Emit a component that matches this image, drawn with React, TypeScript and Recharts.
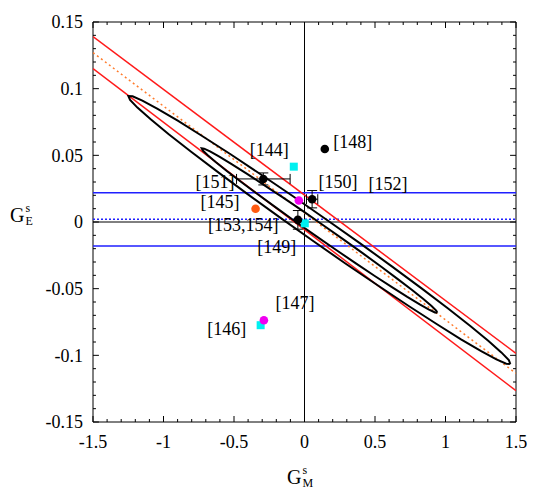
import {
  ComposedChart, XAxis, YAxis, Line, Scatter, ErrorBar, ReferenceLine, ReferenceArea,
} from "recharts";

const FONT = "'Liberation Serif', 'Times New Roman', serif";

const xTicks = [-1.5, -1, -0.5, 0, 0.5, 1, 1.5];
const yTicks = [-0.15, -0.1, -0.05, 0, 0.05, 0.1, 0.15];
const xMinor = Array.from({ length: 31 }, (_, i) => +(-1.5 + i * 0.1).toFixed(2));
const yMinor = Array.from({ length: 31 }, (_, i) => +(-0.15 + i * 0.01).toFixed(3));

// horizontal bands (G_E^s constraints)
const blueSolid = [0.022, -0.018];
const blueDotted = 0.002;

// diagonal bands, read at the left and right edges
const redUpper = [{ x: -1.5, y: 0.139 }, { x: 1.5, y: -0.0985 }];
const redLower = [{ x: -1.5, y: 0.115 }, { x: 1.5, y: -0.1265 }];
const orangeMid = [{ x: -1.5, y: 0.127 }, { x: 1.5, y: -0.1135 }];

// contour points
const outerEllipse = [
  { x: 1.460, y: -0.1065 }, { x: 1.431, y: -0.1063 }, { x: 1.361, y: -0.1031 }, { x: 1.253, y: -0.0969 },
  { x: 1.110, y: -0.0880 }, { x: 0.937, y: -0.0765 }, { x: 0.739, y: -0.0630 }, { x: 0.521, y: -0.0476 },
  { x: 0.290, y: -0.0311 }, { x: 0.054, y: -0.0137 }, { x: -0.180, y: 0.0038 }, { x: -0.406, y: 0.0211 },
  { x: -0.616, y: 0.0376 }, { x: -0.804, y: 0.0527 }, { x: -0.965, y: 0.0660 }, { x: -1.093, y: 0.0772 },
  { x: -1.185, y: 0.0858 }, { x: -1.237, y: 0.0916 }, { x: -1.249, y: 0.0945 }, { x: -1.219, y: 0.0943 },
  { x: -1.150, y: 0.0911 }, { x: -1.042, y: 0.0849 }, { x: -0.899, y: 0.0760 }, { x: -0.726, y: 0.0645 },
  { x: -0.527, y: 0.0510 }, { x: -0.309, y: 0.0356 }, { x: -0.079, y: 0.0191 }, { x: 0.157, y: 0.0017 },
  { x: 0.392, y: -0.0158 }, { x: 0.617, y: -0.0331 }, { x: 0.828, y: -0.0496 }, { x: 1.016, y: -0.0647 },
  { x: 1.176, y: -0.0780 }, { x: 1.305, y: -0.0892 }, { x: 1.396, y: -0.0978 }, { x: 1.449, y: -0.1036 },
  { x: 1.460, y: -0.1065 },
];

const innerEllipse = [
  { x: 0.942, y: -0.0680 }, { x: 0.925, y: -0.0678 }, { x: 0.883, y: -0.0657 }, { x: 0.817, y: -0.0618 },
  { x: 0.729, y: -0.0562 }, { x: 0.623, y: -0.0491 }, { x: 0.501, y: -0.0407 }, { x: 0.367, y: -0.0312 },
  { x: 0.225, y: -0.0210 }, { x: 0.080, y: -0.0104 }, { x: -0.065, y: 0.0004 }, { x: -0.204, y: 0.0110 },
  { x: -0.334, y: 0.0210 }, { x: -0.451, y: 0.0302 }, { x: -0.551, y: 0.0383 }, { x: -0.630, y: 0.0450 },
  { x: -0.688, y: 0.0502 }, { x: -0.721, y: 0.0536 }, { x: -0.729, y: 0.0553 }, { x: -0.712, y: 0.0550 },
  { x: -0.670, y: 0.0529 }, { x: -0.604, y: 0.0490 }, { x: -0.517, y: 0.0434 }, { x: -0.410, y: 0.0363 },
  { x: -0.289, y: 0.0279 }, { x: -0.154, y: 0.0185 }, { x: -0.013, y: 0.0083 }, { x: 0.133, y: -0.0024 },
  { x: 0.278, y: -0.0132 }, { x: 0.417, y: -0.0237 }, { x: 0.547, y: -0.0338 }, { x: 0.664, y: -0.0430 },
  { x: 0.763, y: -0.0510 }, { x: 0.843, y: -0.0578 }, { x: 0.901, y: -0.0630 }, { x: 0.934, y: -0.0664 },
  { x: 0.942, y: -0.0680 },
];

// measurements
const blackPts = [
  { x: 0.144, y: 0.0548, ex: 0, ey: 0 },        // [148]
  { x: -0.292, y: 0.0323, ex: 0.19, ey: 0.0045 }, // [151]
  { x: 0.054, y: 0.0171, ex: 0.04, ey: 0.0065 },  // [150]
  { x: -0.047, y: 0.0016, ex: 0, ey: 0.007 },     // [153,154]
];
const cyanPts = [
  { x: -0.076, y: 0.0415 },  // [144]
  { x: 0.002, y: -0.001 },
  { x: -0.311, y: -0.0774 }, // [146]
];
const magentaPts = [
  { x: -0.040, y: 0.0161 },
  { x: -0.288, y: -0.0737 }, // [147]
];
const orangePts = [{ x: -0.347, y: 0.0099 }]; // [145]

const refLabels = [
  { x: -0.25, y: 0.054, t: "[144]" },
  { x: 0.342, y: 0.060, t: "[148]" },
  { x: -0.635, y: 0.030, t: "[151]" },
  { x: 0.238, y: 0.030, t: "[150]" },
  { x: 0.592, y: 0.0285, t: "[152]" },
  { x: -0.599, y: 0.0152, t: "[145]" },
  { x: -0.434, y: -0.0023, t: "[153,154]" },
  { x: -0.197, y: -0.0185, t: "[149]" },
  { x: -0.067, y: -0.061, t: "[147]" },
  { x: -0.552, y: -0.0805, t: "[146]" },
];

const square = (fill: string) => (p: any) => (
  <rect x={p.cx - 4} y={p.cy - 4} width={8} height={8} fill={fill} />
);
const dot = (fill: string) => (p: any) => <circle cx={p.cx} cy={p.cy} r={4.3} fill={fill} />;
const textShape = (p: any) => (
  <text x={p.cx} y={p.cy} textAnchor="middle" dominantBaseline="central"
        style={{ fontFamily: FONT }} fontSize={18} fill="#000">{p.payload.t}</text>
);

function Title({ sub, left, top }: { sub: string; left: number; top: number }) {
  return (
    <div style={{ position: "absolute", left, top, fontFamily: FONT, fontSize: 20, lineHeight: "20px", display: "flex" }}>
      <span>G</span>
      <span style={{ display: "flex", flexDirection: "column", fontSize: 12, lineHeight: "13px", marginTop: -3, marginLeft: 1 }}>
        <span>s</span>
        <span>{sub}</span>
      </span>
    </div>
  );
}

export default function App() {
  const seg = (x1: number, y1: number, x2: number, y2: number, k: string) => (
    <ReferenceLine key={k} segment={[{ x: x1, y: y1 }, { x: x2, y: y2 }]} stroke="#000" strokeWidth={1} ifOverflow="visible" />
  );
  const tickMarks = [
    ...xMinor.map((v, i) => {
      const len = xTicks.includes(v) ? 0.0045 : 0.00225;
      return [seg(v, -0.15, v, -0.15 + len, `xb${i}`), seg(v, 0.15, v, 0.15 - len, `xt${i}`)];
    }),
    ...yMinor.map((v, i) => {
      const len = yTicks.includes(v) ? 0.042 : 0.021;
      return [seg(-1.5, v, -1.5 + len, v, `yl${i}`), seg(1.5, v, 1.5 - len, v, `yr${i}`)];
    }),
  ].flat();

  const tickStyle = { fontFamily: FONT, fontSize: 18, fill: "#000", style: { fontFamily: FONT } };

  return (
    <div style={{ position: "absolute", left: 0, top: 0, width: 548, height: 498, background: "#fff" }}>
      <ComposedChart width={548} height={498} margin={{ top: 22, right: 32, bottom: 36, left: 33 }}>
        <XAxis type="number" dataKey="x" domain={[-1.5, 1.5]} ticks={xTicks} allowDataOverflow
               axisLine={false} tickLine={false} tickSize={0} tickMargin={13} height={40} interval={0}
               tick={tickStyle} />
        <YAxis type="number" dataKey="y" domain={[-0.15, 0.15]} ticks={yTicks} allowDataOverflow
               axisLine={false} tickLine={false} tickSize={0} tickMargin={10} width={60} interval={0}
               tick={tickStyle} />
        <ReferenceArea x1={-1.5} x2={1.5} y1={-0.15} y2={0.15} fill="none" fillOpacity={0} stroke="#000" strokeWidth={1} />
        <ReferenceLine x={0} stroke="#000" strokeWidth={1} />
        <ReferenceLine y={0} stroke="#000" strokeWidth={1} />
        {blueSolid.map((v) => <ReferenceLine key={v} y={v} stroke="#1f1fff" strokeWidth={1.5} />)}
        <ReferenceLine y={blueDotted} stroke="#1f1fff" strokeWidth={1.5} strokeDasharray="2 2" />
        {tickMarks}
        <Line data={redUpper} dataKey="y" type="linear" stroke="#ff1a1a" strokeWidth={1.5} dot={false} isAnimationActive={false} />
        <Line data={redLower} dataKey="y" type="linear" stroke="#ff1a1a" strokeWidth={1.5} dot={false} isAnimationActive={false} />
        <Line data={orangeMid} dataKey="y" type="linear" stroke="#ff7a2a" strokeWidth={1.5} strokeDasharray="2 3" dot={false} isAnimationActive={false} />
        <Line data={outerEllipse} dataKey="y" type="linear" stroke="#000" strokeWidth={2} dot={false} isAnimationActive={false} />
        <Line data={innerEllipse} dataKey="y" type="linear" stroke="#000" strokeWidth={2} dot={false} isAnimationActive={false} />
        <Scatter data={cyanPts} dataKey="y" shape={square("#00f0f0")} isAnimationActive={false} />
        <Scatter data={magentaPts} dataKey="y" shape={dot("#f000f0")} isAnimationActive={false} />
        <Scatter data={orangePts} dataKey="y" shape={dot("#ff5a10")} isAnimationActive={false} />
        <Scatter data={blackPts} dataKey="y" shape={dot("#000")} isAnimationActive={false}>
          <ErrorBar dataKey="ex" direction="x" width={5} stroke="#000" strokeWidth={1} />
          <ErrorBar dataKey="ey" direction="y" width={5} stroke="#000" strokeWidth={1} />
        </Scatter>
        <Scatter data={refLabels} dataKey="y" shape={textShape} isAnimationActive={false} />
      </ComposedChart>
      <Title sub="M" left={287} top={467} />
      <Title sub="E" left={10} top={205} />
    </div>
  );
}
